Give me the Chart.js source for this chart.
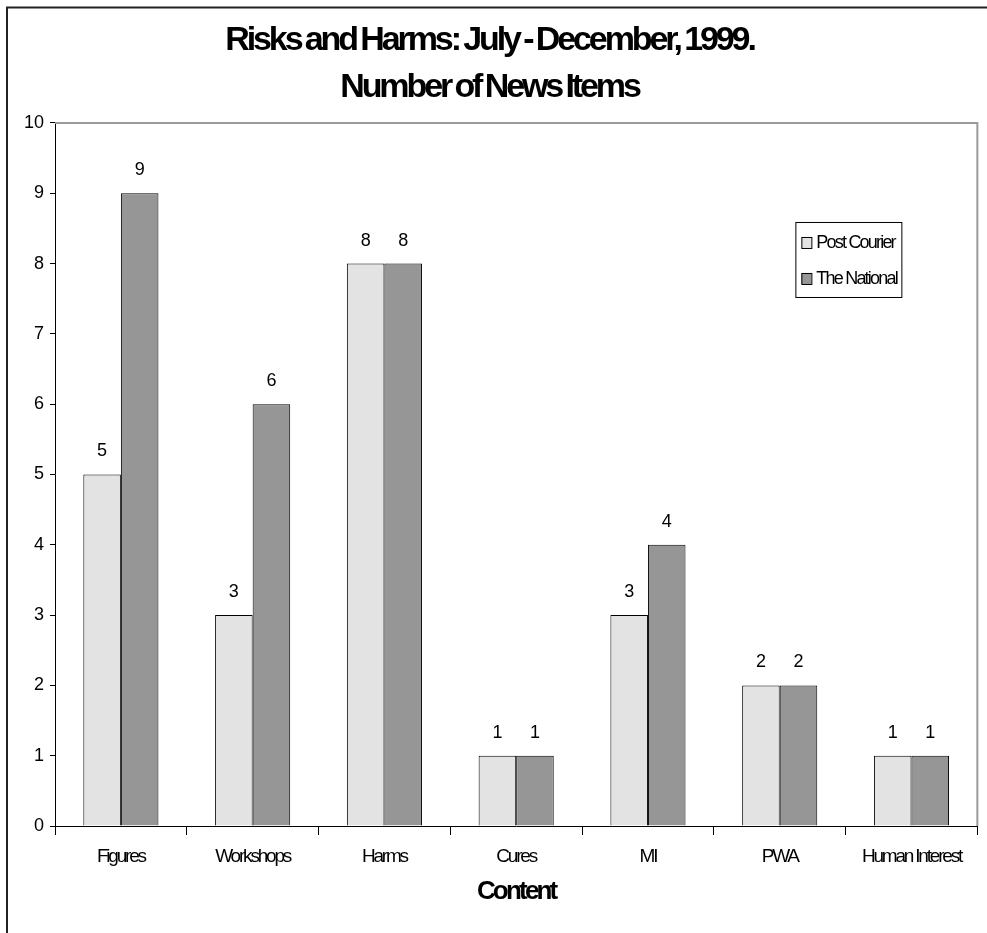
<!DOCTYPE html>
<html>
<head>
<meta charset="utf-8">
<script src="https://cdn.jsdelivr.net/npm/chart.js@4.4.1/dist/chart.umd.min.js"></script>
<style>
  html, body { margin: 0; padding: 0; background: #fff; }
  #wrap { width: 987px; height: 933px; }
</style>
</head>
<body>
<div id="wrap"><canvas id="c" width="987" height="933"></canvas></div>
<script>
const titleLines = ['Risks and Harms: July - December, 1999.', 'Number of News Items'];
const categories = ['Figures', 'Workshops', 'Harms', 'Cures', 'MI', 'PWA', 'Human Interest'];
const seriesNames = ['Post Courier', 'The National'];
const postCourier = [5, 3, 8, 1, 3, 2, 1];
const theNational = [9, 6, 8, 1, 4, 2, 1];
const yTickValues = [0, 1, 2, 3, 4, 5, 6, 7, 8, 9, 10];
const xAxisTitle = 'Content';

const FONT = "'Liberation Sans', Arial, Helvetica, sans-serif";
const LIGHT = '#e3e3e3';
const DARK = '#969696';

function withSpacing(ctx, sp, ws, fn) {
  const prev = ctx.letterSpacing;
  const prevW = ctx.wordSpacing;
  try { ctx.letterSpacing = sp; ctx.wordSpacing = ws; } catch (e) {}
  fn();
  try { ctx.letterSpacing = prev || '0px'; ctx.wordSpacing = prevW || '0px'; } catch (e) {}
}

const condensePlugin = {
  id: 'condense',
  afterLayout(chart) {
    const ctx = chart.ctx;
    const t = chart.titleBlock;
    if (t && !t._patched) {
      const orig = t.draw.bind(t);
      t.draw = function (a) { withSpacing(ctx, '-3.1px', '-2px', () => orig(a)); };
      t._patched = true;
    }
    const x = chart.scales.x;
    if (x && !x._patched) {
      const ol = x.drawLabels.bind(x);
      x.drawLabels = function (a) { withSpacing(ctx, '-2.2px', '0px', () => ol(a)); };
      const ot = x.drawTitle.bind(x);
      x.drawTitle = function (a) { withSpacing(ctx, '-2.8px', '0px', () => ot(a)); };
      x._patched = true;
    }
  }
};

const decorPlugin = {
  id: 'decor',
  beforeDraw(chart) {
    const ctx = chart.ctx;
    ctx.save();
    ctx.fillStyle = '#fff';
    ctx.fillRect(0, 0, chart.width, chart.height);
    ctx.restore();
  },
  afterDatasetsDraw(chart) {
    const ctx = chart.ctx;
    const ca = chart.chartArea;
    ctx.save();
    ctx.strokeStyle = '#9a9a9a';
    ctx.lineWidth = 2;
    ctx.beginPath();
    ctx.moveTo(ca.left, ca.top);
    ctx.lineTo(ca.right, ca.top);
    ctx.lineTo(ca.right, ca.bottom);
    ctx.stroke();
    ctx.restore();
    ctx.save();
    ctx.font = '18px ' + FONT;
    ctx.fillStyle = '#000';
    ctx.textAlign = 'center';
    ctx.textBaseline = 'alphabetic';
    chart.data.datasets.forEach((ds, di) => {
      const meta = chart.getDatasetMeta(di);
      meta.data.forEach((el, i) => {
        ctx.fillText(String(ds.data[i]), el.x, el.y - 18);
      });
    });
    ctx.restore();
  },
  afterDraw(chart) {
    const ctx = chart.ctx;
    const ca = chart.chartArea;
    const bx = ca.right - 182, by = ca.top + 99, bw = 106, bh = 75;
    ctx.save();
    ctx.fillStyle = '#fff';
    ctx.fillRect(bx, by, bw, bh);
    ctx.strokeStyle = '#000';
    ctx.lineWidth = 1;
    ctx.strokeRect(bx + 0.5, by + 0.5, bw, bh);
    ctx.font = '18px ' + FONT;
    ctx.textAlign = 'left';
    ctx.textBaseline = 'middle';
    chart.data.datasets.forEach((ds, i) => {
      const cy = by + 20 + i * 36;
      ctx.fillStyle = ds.backgroundColor;
      ctx.fillRect(bx + 6, cy - 5, 10, 11);
      ctx.strokeStyle = '#000';
      ctx.strokeRect(bx + 6.5, cy - 4.5, 10, 11);
      ctx.fillStyle = '#000';
      withSpacing(ctx, '-1.8px', '0px', () => ctx.fillText(ds.label, bx + 21, cy + 1));
    });
    ctx.strokeStyle = '#222';
    ctx.lineWidth = 2;
    ctx.beginPath();
    ctx.moveTo(7, chart.height);
    ctx.lineTo(7, 7.5);
    ctx.lineTo(chart.width, 7.5);
    ctx.stroke();
    ctx.restore();
  }
};

new Chart(document.getElementById('c'), {
  type: 'bar',
  data: {
    labels: categories,
    datasets: [
      { label: seriesNames[0], data: postCourier, backgroundColor: LIGHT, borderColor: '#000', borderWidth: 1,
        categoryPercentage: 0.57, barPercentage: 1.0 },
      { label: seriesNames[1], data: theNational, backgroundColor: DARK, borderColor: '#000', borderWidth: 1,
        categoryPercentage: 0.57, barPercentage: 1.0 }
    ]
  },
  options: {
    responsive: false,
    animation: false,
    layout: { padding: { left: 0, right: 8, top: 0, bottom: 0 } },
    plugins: {
      legend: { display: false },
      tooltip: { enabled: false },
      title: {
        display: true,
        text: titleLines,
        color: '#000',
        font: { family: FONT, size: 34, weight: 'bold', lineHeight: 1.36 },
        padding: { top: 18, bottom: 12.5 }
      }
    },
    scales: {
      x: {
        grid: { display: true, drawOnChartArea: false, offset: true, color: '#000', tickLength: 9, tickWidth: 1 },
        border: { display: true, color: '#000', width: 1 },
        ticks: { color: '#000', font: { family: FONT, size: 19 }, padding: 10, maxRotation: 0, autoSkip: false },
        title: { display: true, text: xAxisTitle, color: '#000', font: { family: FONT, size: 26, weight: 'bold' }, padding: { top: 0, bottom: 26 } },
        afterFit(s) { s.height = 107; }
      },
      y: {
        min: 0, max: 10,
        afterBuildTicks(s) { s.ticks = yTickValues.map(v => ({ value: v })); },
        grid: { display: true, drawOnChartArea: false, color: '#000', tickLength: 5 },
        border: { display: true, color: '#000', width: 1 },
        ticks: { color: '#000', font: { family: FONT, size: 18 }, padding: 6 },
        afterFit(s) { s.width = 55; }
      }
    }
  },
  plugins: [condensePlugin, decorPlugin]
});
</script>
</body>
</html>
